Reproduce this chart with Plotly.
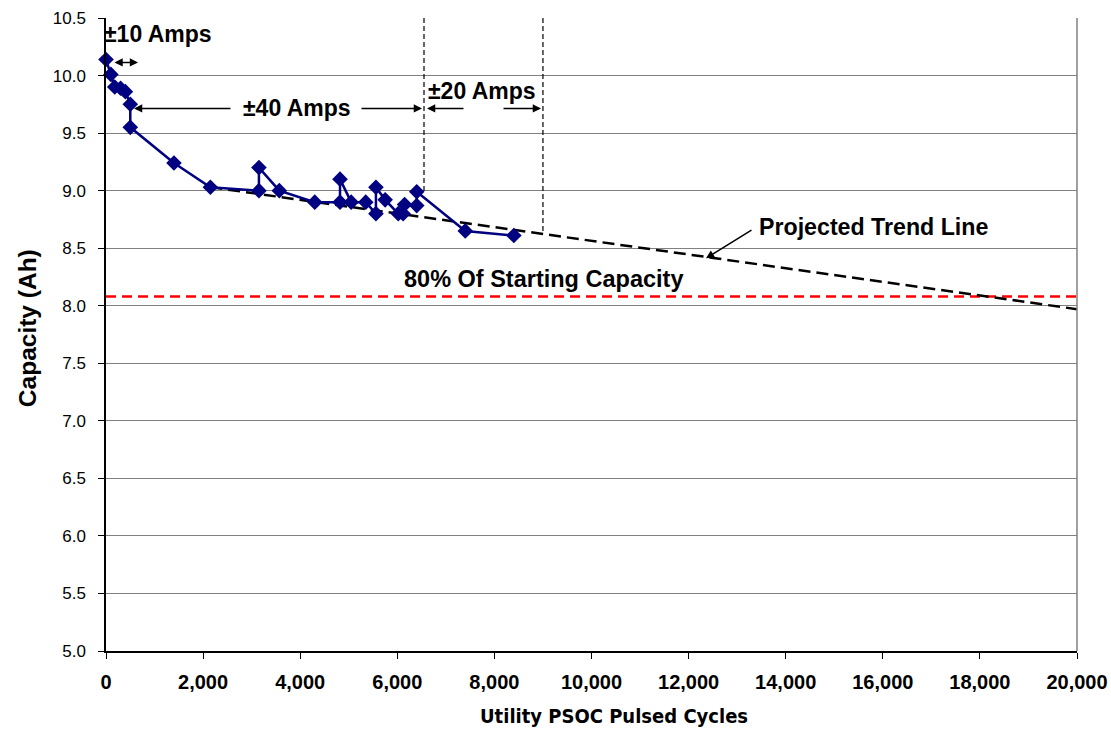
import plotly.graph_objects as go

# Data
cycles = [0, 100, 180, 300, 400, 500, 500, 1400, 2150, 3150, 3150, 3570, 4300,
          4820, 4820, 5050, 5350, 5560, 5560, 5750, 6020, 6120, 6150, 6400, 6400, 7400, 8400]
capacity = [10.14, 10.01, 9.90, 9.89, 9.86, 9.75, 9.55, 9.24, 9.03, 9.00, 9.20, 9.00, 8.90,
            8.90, 9.10, 8.90, 8.90, 8.80, 9.03, 8.92, 8.80, 8.80, 8.88, 8.87, 8.99, 8.65, 8.61]
trend_x = [2150, 20000]
trend_y = [9.03, 7.97]
threshold = 8.08
threshold_x = [0, 20000]
y_ticks = [5.0, 5.5, 6.0, 6.5, 7.0, 7.5, 8.0, 8.5, 9.0, 9.5, 10.0, 10.5]
x_ticks = [0, 2000, 4000, 6000, 8000, 10000, 12000, 14000, 16000, 18000, 20000]

FONT = "Liberation Sans, Arial, sans-serif"
COND = "DejaVu Sans Condensed, Liberation Sans, sans-serif"

fig = go.Figure()
fig.add_trace(go.Scatter(x=threshold_x, y=[threshold, threshold], mode="lines",
                         line=dict(color="#ff0000", width=2.5, dash="10px,6px"),
                         hoverinfo="skip", showlegend=False))
fig.add_trace(go.Scatter(x=trend_x, y=trend_y, mode="lines",
                         line=dict(color="black", width=2.5, dash="12px,6px"),
                         hoverinfo="skip", showlegend=False))
fig.add_trace(go.Scatter(x=cycles, y=capacity, mode="lines+markers",
                         line=dict(color="#000080", width=2.5),
                         marker=dict(symbol="diamond", size=12, color="#000080"),
                         cliponaxis=False, showlegend=False))

# vertical dashed markers
fig.add_shape(type="line", x0=6550, x1=6550, y0=10.5, y1=8.98, xref="x", yref="y",
              line=dict(color="black", width=1.2, dash="5px,3px"))
fig.add_shape(type="line", x0=9000, x1=9000, y0=10.5, y1=8.63, xref="x", yref="y",
              line=dict(color="black", width=1.2, dash="5px,3px"))

bold = dict(family=FONT, size=23, color="black")
ann = []
ann.append(dict(x=0, y=10.365, text="<b>±10 Amps</b>", showarrow=False, xanchor="left",
                xshift=-4, font=bold))
ann.append(dict(x=9001, y=8.23, text="<b>80% Of Starting Capacity</b>", showarrow=False,
                font=dict(family=FONT, size=23.5, color="black")))
ann.append(dict(x=3934, y=9.714, text="<b>±40 Amps</b>", showarrow=False, font=bold))
ann.append(dict(x=7745, y=9.87, text="<b>±20 Amps</b>", showarrow=False, font=bold))
ann.append(dict(x=13409, y=8.68, text="<b>Projected Trend Line</b>", showarrow=False,
                xanchor="left", font=dict(family=FONT, size=23.2, color="black")))

# axis titles as annotations (positioned like the reference)
ann.append(dict(xref="paper", yref="paper", x=0.523, y=-0.1026,
                xanchor="center", yanchor="middle",
                text="<b>Utility PSOC Pulsed Cycles</b>", showarrow=False,
                font=dict(family=COND, size=20, color="black")))
ann.append(dict(xref="paper", yref="paper", x=-0.0814, y=0.51, textangle=-90,
                xanchor="center", yanchor="middle",
                text="<b>Capacity (Ah)</b>", showarrow=False,
                font=dict(family=FONT, size=24.5, color="black")))

def arrow(x0, y0, x1, y1, side="end"):
    return dict(x=x1, y=y1, ax=x0, ay=y0, xref="x", yref="y", axref="x", ayref="y",
                text="", showarrow=True, arrowhead=2, arrowsize=1.1, arrowwidth=1.5,
                arrowcolor="black", arrowside=side, standoff=0, startstandoff=0)

ann.append(arrow(144, 10.114, 660, 10.114, side="end+start"))
ann.append(arrow(2595, 9.714, 577, 9.714))
ann.append(arrow(5232, 9.714, 6509, 9.714))
ann.append(arrow(7394, 9.714, 6612, 9.714))
ann.append(arrow(8157, 9.714, 8960, 9.714))
ann.append(arrow(13326, 8.664, 12358, 8.412))

fig.update_layout(
    width=1111, height=738, autosize=False,
    margin=dict(l=106, r=34, t=18, b=87),
    paper_bgcolor="white", plot_bgcolor="white",
    font=dict(family=FONT, color="black"),
    annotations=ann,
    xaxis=dict(range=[0, 20000], tickvals=x_ticks, tickformat=",d", automargin=False,
               tickfont=dict(family=FONT, size=20, color="black", weight="bold"),
               ticklabelstandoff=6,
               showgrid=False, zeroline=False, showline=True, linecolor="black", linewidth=1.5,
               ticks="outside", ticklen=6, tickcolor="black"),
    yaxis=dict(range=[5, 10.5], tickvals=y_ticks, tickformat=".1f", automargin=False,
               tickfont=dict(family=FONT, size=17, color="black"),
               ticklabelstandoff=9,
               showgrid=True, gridcolor="#808080", gridwidth=1,
               zeroline=False, showline=True, linecolor="black", linewidth=1.5,
               ticks="outside", ticklen=6, tickcolor="black"),
)
# right border
fig.add_shape(type="line", xref="paper", yref="paper", x0=1, x1=1, y0=0, y1=1,
              line=dict(color="#808080", width=1.5))

fig.write_html("out.html", config={"displayModeBar": False},
               post_script="document.body.style.margin='0px';")
